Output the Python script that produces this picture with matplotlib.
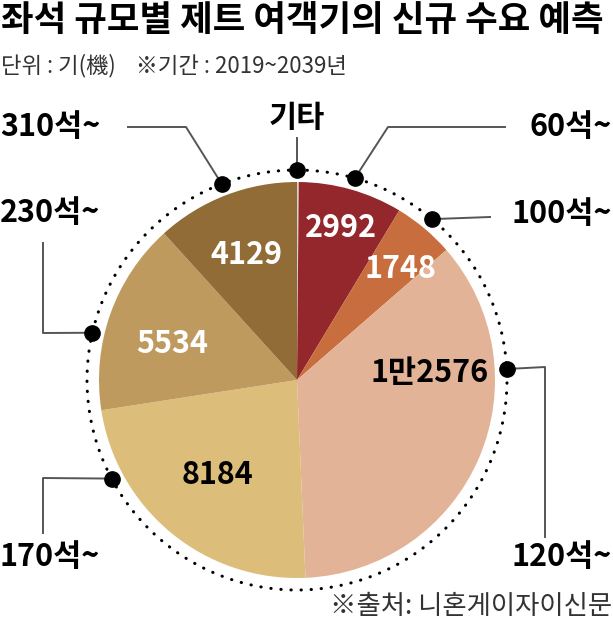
import numpy as np
import matplotlib.pyplot as plt
from matplotlib.patches import Circle

plt.rcParams['font.family'] = ['Noto Sans CJK KR', 'DejaVu Sans']

# === DATA ===
seats = ["기타", "60석~", "100석~", "120석~", "170석~", "230석~", "310석~"]
demand = [50, 2992, 1748, 12576, 8184, 5534, 4129]
value_labels = ["", "2992", "1748", "1만2576", "8184", "5534", "4129"]
colors = ["#d6d2cc", "#94272b", "#c76d3e", "#e2b397", "#dcbd7a", "#bf9a5f", "#916c37"]
value_colors = ["black", "white", "white", "black", "black", "white", "white"]

# === LAYOUT (pixels, y down) ===
CX, CY, R = 297, 380, 198
R_DOTS = 210
# where the number sits inside each wedge: (angle clockwise from top, radius)
value_pos = [None, (16, 158), (43, 152), (87, 133), (220, 124), (286, 130), (338, 135)]
# callout dot angle (clockwise from top) and the bends of its leader line
dot_angle = [0, 16, 40, 87, 242, 283, 339]
bends = [
    [(297, 138)],
    [(388, 127), (505, 127)],
    [(490, 217)],
    [(545, 367), (545, 537)],
    [(43, 478), (43, 533)],
    [(43, 333), (43, 243)],
    [(186, 127), (128, 127)],
]
label_pos = [
    (297, 118, "center"),
    (612, 127, "right"),
    (612, 214, "right"),
    (612, 557, "right"),
    (0, 557, "left"),
    (0, 213, "left"),
    (0, 127, "left"),
]


def to_xy(angle, r):
    a = np.deg2rad(angle)
    return CX + r * np.sin(a), CY - r * np.cos(a)


fig = plt.figure(figsize=(6.13, 6.24), dpi=100)
ax = fig.add_axes([0, 0, 1, 1])

# y is inverted, so counterclock in data == clockwise on screen
ax.pie(demand, colors=colors, startangle=-90, counterclock=True,
       center=(CX, CY), radius=R, wedgeprops=dict(linewidth=0))

ax.add_patch(Circle((CX, CY), R_DOTS, fill=False, edgecolor="black",
                    linewidth=2.2, linestyle=(0, (0.1, 3.2)),
                    capstyle="round"))

for i, name in enumerate(seats):
    if value_pos[i]:
        x, y = to_xy(*value_pos[i])
        ax.text(x, y, value_labels[i], ha="center", va="center",
                fontsize=22, fontweight="bold", color=value_colors[i])

    dx, dy = to_xy(dot_angle[i], R_DOTS)
    pts = [(dx, dy)] + bends[i]
    ax.plot([p[0] for p in pts], [p[1] for p in pts], color="#555555",
            linewidth=1.4, zorder=4)
    ax.plot(dx, dy, "o", color="black", markersize=11, zorder=5)

    lx, ly, ha = label_pos[i]
    ax.text(lx, ly, name, ha=ha, va="center", fontsize=22,
            fontweight="bold", color="black")

ax.text(1, 20, "좌석 규모별 제트 여객기의 신규 수요 예측", ha="left",
        va="center", fontsize=25.5, fontweight="black", color="black")
ax.text(1, 66, "단위 : 기(機)    ※기간 : 2019~2039년", ha="left",
        va="center", fontsize=16, color="#333333")
ax.text(612, 606, "※출처: 니혼게이자이신문", ha="right", va="center",
        fontsize=19, color="#333333")

ax.set_xlim(0, 613)
ax.set_ylim(624, 0)
ax.set_aspect("equal")
ax.axis("off")

fig.savefig("out.png", dpi=100)
